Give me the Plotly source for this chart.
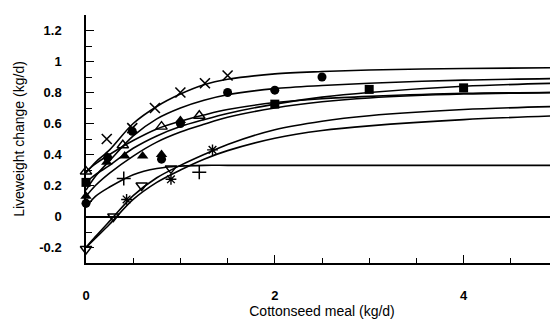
import plotly.graph_objects as go

# ---- Data ----
# Fitted response curves, sampled at these cottonseed meal levels (kg/d)
CURVE_X = [0, 0.1, 0.25, 0.5, 0.75, 1.0, 1.25, 1.5, 2.0, 2.5, 3.0, 4.0, 5.0]
CURVE_CROSS = [0.28, 0.35, 0.43, 0.60, 0.71, 0.79, 0.85, 0.885, 0.92, 0.935, 0.945, 0.955, 0.96]
CURVE_CIRCLE = [0.17, 0.26, 0.36, 0.52, 0.63, 0.70, 0.75, 0.785, 0.825, 0.845, 0.86, 0.88, 0.89]
CURVE_TRI_OPEN = [0.29, 0.34, 0.40, 0.49, 0.565, 0.615, 0.655, 0.69, 0.735, 0.76, 0.775, 0.795, 0.80]
CURVE_SQUARE = [0.22, 0.27, 0.33, 0.44, 0.52, 0.58, 0.625, 0.665, 0.725, 0.77, 0.80, 0.84, 0.86]
CURVE_TRI_FILLED = [0.13, 0.20, 0.28, 0.39, 0.48, 0.545, 0.595, 0.64, 0.70, 0.74, 0.765, 0.79, 0.80]
CURVE_PLUS = [0.06, 0.13, 0.19, 0.27, 0.31, 0.325, 0.33, 0.33, 0.33, 0.33, 0.33, 0.33, 0.33]
CURVE_TRI_DOWN = [-0.20, -0.13, -0.03, 0.135, 0.25, 0.33, 0.40, 0.465, 0.56, 0.615, 0.65, 0.69, 0.71]
CURVE_STAR = [-0.20, -0.14, -0.05, 0.11, 0.22, 0.30, 0.37, 0.425, 0.505, 0.555, 0.585, 0.625, 0.65]

# Observed points
CROSS_X = [0.22, 0.49, 0.73, 1.0, 1.26, 1.5]
CROSS_Y = [0.50, 0.57, 0.70, 0.80, 0.86, 0.91]
CIRCLE_X = [0, 0.23, 0.49, 0.80, 1.0, 1.5, 2.0, 2.5]
CIRCLE_Y = [0.085, 0.38, 0.55, 0.37, 0.60, 0.80, 0.815, 0.90]
TRI_OPEN_X = [0, 0.39, 0.80, 1.20]
TRI_OPEN_Y = [0.29, 0.46, 0.58, 0.65]
SQUARE_X = [0, 2.0, 3.0, 4.0]
SQUARE_Y = [0.22, 0.725, 0.82, 0.83]
TRI_FILLED_X = [0, 0.22, 0.41, 0.60, 0.80, 1.0]
TRI_FILLED_Y = [0.13, 0.35, 0.39, 0.39, 0.40, 0.62]
PLUS_X = [0.40, 1.20]
PLUS_Y = [0.245, 0.285]
STAR_X = [0.43, 0.90, 1.34]
STAR_Y = [0.11, 0.24, 0.43]
TRI_DOWN_X = [0, 0.29, 0.59, 0.90]
TRI_DOWN_Y = [-0.21, 0.0, 0.20, 0.31]

Y_TICKS = [-0.2, 0, 0.2, 0.4, 0.6, 0.8, 1.0, 1.2]
Y_TICK_TEXT = ["-0.2", "0", "0.2", "0.4", "0.6", "0.8", "1", "1.2"]
X_TICKS = [0, 2, 4]
X_TICK_TEXT = ["0", "2", "4"]

FONT = "Liberation Sans, Arial, sans-serif"
fig = go.Figure()

curves = [CURVE_CROSS, CURVE_CIRCLE, CURVE_TRI_OPEN, CURVE_SQUARE,
          CURVE_TRI_FILLED, CURVE_PLUS, CURVE_TRI_DOWN, CURVE_STAR]
for cy in curves:
    fig.add_trace(go.Scatter(x=CURVE_X, y=cy, mode="lines",
                             line=dict(color="black", width=1.6, shape="spline", smoothing=0.9),
                             showlegend=False, hoverinfo="skip"))

markers = [
    (CROSS_X, CROSS_Y, "x-thin-open", 10, 1.6),
    (CIRCLE_X, CIRCLE_Y, "circle", 9, 0),
    (TRI_OPEN_X, TRI_OPEN_Y, "triangle-up-open", 10, 1.4),
    (SQUARE_X, SQUARE_Y, "square", 9, 0),
    (TRI_FILLED_X, TRI_FILLED_Y, "triangle-up", 10, 0),
    (PLUS_X, PLUS_Y, "cross-thin-open", 10, 1.5),
    (STAR_X, STAR_Y, "asterisk-open", 9, 1.4),
    (TRI_DOWN_X, TRI_DOWN_Y, "triangle-down-open", 10, 1.4),
]
for mx, my, sym, size, lw in markers:
    fig.add_trace(go.Scatter(x=mx, y=my, mode="markers",
                             marker=dict(symbol=sym, size=size, color="black",
                                         line=dict(color="black", width=lw)),
                             cliponaxis=False, showlegend=False))

# The page body adds an 8px offset, so the figure is sized 8px smaller.
fig.update_layout(
    width=550, height=313,
    margin=dict(l=78, r=0, t=7, b=58),
    paper_bgcolor="white", plot_bgcolor="white",
    font=dict(family=FONT, size=13, color="black"),
)
fig.update_xaxes(
    range=[0, 5.0], showgrid=False, zeroline=False, automargin=False,
    showline=True, linecolor="black", linewidth=1.5,
    tickmode="array", tickvals=X_TICKS, ticktext=X_TICK_TEXT,
    ticks="inside", ticklen=8, tickwidth=1.3, tickcolor="black",
    minor=dict(dtick=0.5, tick0=0, ticks="inside", ticklen=5, tickwidth=1.2, tickcolor="black"),
    tickfont=dict(family=FONT, size=13, weight="bold"),
    ticklabelstandoff=20,
    title=dict(text="Cottonseed meal (kg/d)", standoff=4,
               font=dict(family=FONT, size=14)),
)
fig.update_yaxes(
    range=[-0.3, 1.3], showgrid=False, automargin=False,
    zeroline=True, zerolinecolor="black", zerolinewidth=1.6,
    showline=True, linecolor="black", linewidth=1.5,
    tickmode="array", tickvals=Y_TICKS, ticktext=Y_TICK_TEXT,
    ticks="inside", ticklen=8, tickwidth=1.3, tickcolor="black",
    minor=dict(dtick=0.1, tick0=0, ticks="inside", ticklen=6, tickwidth=1.2, tickcolor="black"),
    tickfont=dict(family=FONT, size=13, weight="bold"),
    ticklabelstandoff=20,
    title=dict(text="Liveweight change (kg/d)", standoff=11,
               font=dict(family=FONT, size=14)),
)

fig.write_html("out.html")
